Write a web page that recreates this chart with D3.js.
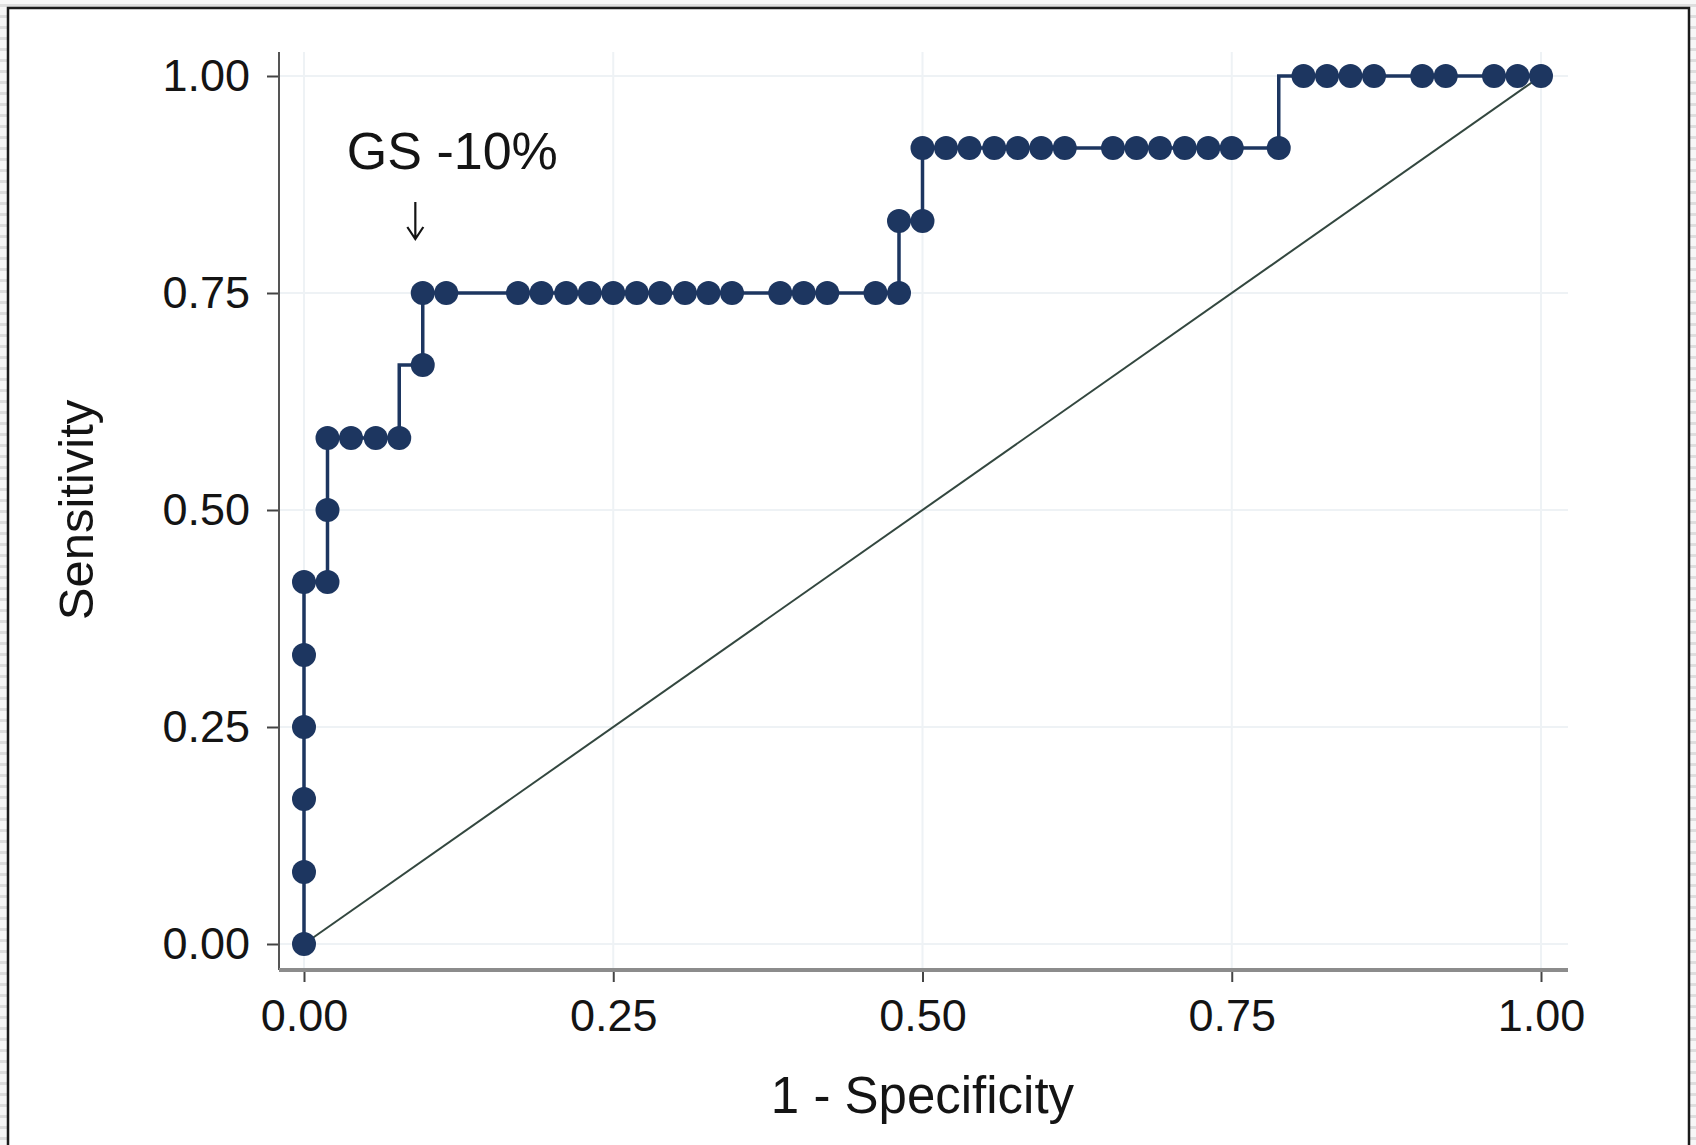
<!DOCTYPE html>
<html>
<head>
<meta charset="utf-8">
<script src="https://cdn.jsdelivr.net/npm/d3@7"></script>
<style>
  html, body { margin: 0; padding: 0; background: #fff; }
  svg { display: block; }
  text { font-family: "Liberation Sans", Arial, Helvetica, sans-serif; fill: #141414; }
</style>
</head>
<body>
<svg width="1696" height="1145"></svg>
<script>
const width = 1696,
    height = 1145;

// ROC points, in the order they are connected (1 - specificity, sensitivity)
const fpr = [0, 0, 0, 0, 0, 0, 0.019, 0.019, 0.019, 0.038, 0.058, 0.077,
    0.096, 0.096, 0.115,
    0.173, 0.192, 0.212, 0.231, 0.25, 0.269, 0.288, 0.308, 0.327, 0.346,
    0.385, 0.404, 0.423, 0.462, 0.481,
    0.481, 0.5, 0.5,
    0.519, 0.538, 0.558, 0.577, 0.596, 0.615,
    0.654, 0.673, 0.692, 0.712, 0.731, 0.75, 0.788,
    0.808, 0.827, 0.846, 0.865, 0.904, 0.923, 0.962, 0.981, 1];
const sens = [0, 0.083, 0.167, 0.25, 0.333, 0.417, 0.417, 0.5, 0.583, 0.583, 0.583, 0.583,
    0.667, 0.75, 0.75,
    0.75, 0.75, 0.75, 0.75, 0.75, 0.75, 0.75, 0.75, 0.75, 0.75,
    0.75, 0.75, 0.75, 0.75, 0.75,
    0.833, 0.833, 0.917,
    0.917, 0.917, 0.917, 0.917, 0.917, 0.917,
    0.917, 0.917, 0.917, 0.917, 0.917, 0.917, 0.917,
    1, 1, 1, 1, 1, 1, 1, 1, 1];

const xTicks = [0, 0.25, 0.5, 0.75, 1];
const yTicks = [0, 0.25, 0.5, 0.75, 1];
const xTitle = "1 - Specificity",
    yTitle = "Sensitivity",
    note = "GS -10%",
    noteAt = [0.09, 0.75];

const navy = "#1d3660";
const fmt = d3.format(".2f");

var svg = d3.select("svg");

// outer frame with the striped scan edge
var defs = svg.append("defs");
var pat = defs.append("pattern").attr("id", "stripes")
    .attr("width", 11).attr("height", 11).attr("patternUnits", "userSpaceOnUse");
pat.append("rect").attr("width", 11).attr("height", 11).attr("fill", "#f7f7f7");
pat.append("rect").attr("y", 4).attr("width", 11).attr("height", 3).attr("fill", "#dedede");
svg.append("rect").attr("width", width).attr("height", height).attr("fill", "url(#stripes)");
svg.append("rect").attr("x", 8).attr("y", 8).attr("width", 1681).attr("height", 1150)
    .attr("fill", "#fff").attr("stroke", "#1b1b1b").attr("stroke-width", 2.5);

var x = d3.scaleLinear().domain([0, 1]).range([304, 1541]),
    y = d3.scaleLinear().domain([0, 1]).range([944, 76]);

const frame = { left: x(0) - 25, right: x(1) + 27, top: y(1) - 24, bottom: y(0) + 26 };

var g = svg.append("g");

// grid
g.selectAll(".gx").data(xTicks).enter().append("line")
    .attr("x1", d => x(d)).attr("x2", d => x(d))
    .attr("y1", frame.top).attr("y2", frame.bottom)
    .attr("stroke", "#eef2f5").attr("stroke-width", 2);
g.selectAll(".gy").data(yTicks).enter().append("line")
    .attr("x1", frame.left).attr("x2", frame.right)
    .attr("y1", d => y(d)).attr("y2", d => y(d))
    .attr("stroke", "#eef2f5").attr("stroke-width", 2);

// axes
var yAxis = g.append("g").attr("transform", "translate(" + frame.left + ",0)")
    .call(d3.axisLeft(y).tickValues(yTicks).tickFormat(fmt).tickSize(12).tickPadding(17));
var xAxis = g.append("g").attr("transform", "translate(0," + frame.bottom + ")")
    .call(d3.axisBottom(x).tickValues(xTicks).tickFormat(fmt).tickSize(12).tickPadding(17));
[xAxis, yAxis].forEach(a => {
    a.select(".domain").remove();
    a.selectAll("line").attr("stroke", "#444").attr("stroke-width", 2);
    a.selectAll("text").style("font-size", "45px").attr("fill", "#141414")
        .style("font-family", '"Liberation Sans", Arial, sans-serif');
});
g.append("line").attr("x1", frame.left).attr("x2", frame.left)
    .attr("y1", frame.top).attr("y2", frame.bottom)
    .attr("stroke", "#555").attr("stroke-width", 2);
g.append("line").attr("x1", frame.left).attr("x2", frame.right)
    .attr("y1", frame.bottom).attr("y2", frame.bottom)
    .attr("stroke", "#8c8c8c").attr("stroke-width", 4);

// reference diagonal
g.append("line")
    .attr("x1", x(0)).attr("y1", y(0)).attr("x2", x(1)).attr("y2", y(1))
    .attr("stroke", "#33473f").attr("stroke-width", 2);

// ROC curve
const pts = fpr.map((d, i) => [d, sens[i]]);
g.append("path")
    .datum(pts)
    .attr("fill", "none")
    .attr("stroke", navy)
    .attr("stroke-width", 3.5)
    .attr("d", d3.line().x(d => x(d[0])).y(d => y(d[1])).curve(d3.curveStepBefore));
g.selectAll(".pt").data(pts).enter().append("circle")
    .attr("cx", d => x(d[0])).attr("cy", d => y(d[1]))
    .attr("r", 12)
    .attr("fill", navy);

// annotation
g.append("text")
    .attr("x", x(noteAt[0]) + 37).attr("y", y(0.893))
    .attr("text-anchor", "middle")
    .style("font-size", "52px")
    .text(note);
const ax = x(noteAt[0]), aTop = 202, aBot = 239;
g.append("path")
    .attr("d", "M" + ax + "," + aTop + "V" + aBot + "M" + (ax - 8) + "," + (aBot - 12) + "L" + ax + "," + aBot + "L" + (ax + 8) + "," + (aBot - 12))
    .attr("fill", "none").attr("stroke", "#141414").attr("stroke-width", 2.2);

// titles
g.append("text")
    .attr("x", (x(0) + x(1)) / 2).attr("y", 1113)
    .attr("text-anchor", "middle")
    .style("font-size", "51px")
    .text(xTitle);
g.append("text")
    .attr("transform", "translate(93," + y(0.5) + ") rotate(-90)")
    .attr("text-anchor", "middle")
    .style("font-size", "49px")
    .text(yTitle);
</script>
</body>
</html>
